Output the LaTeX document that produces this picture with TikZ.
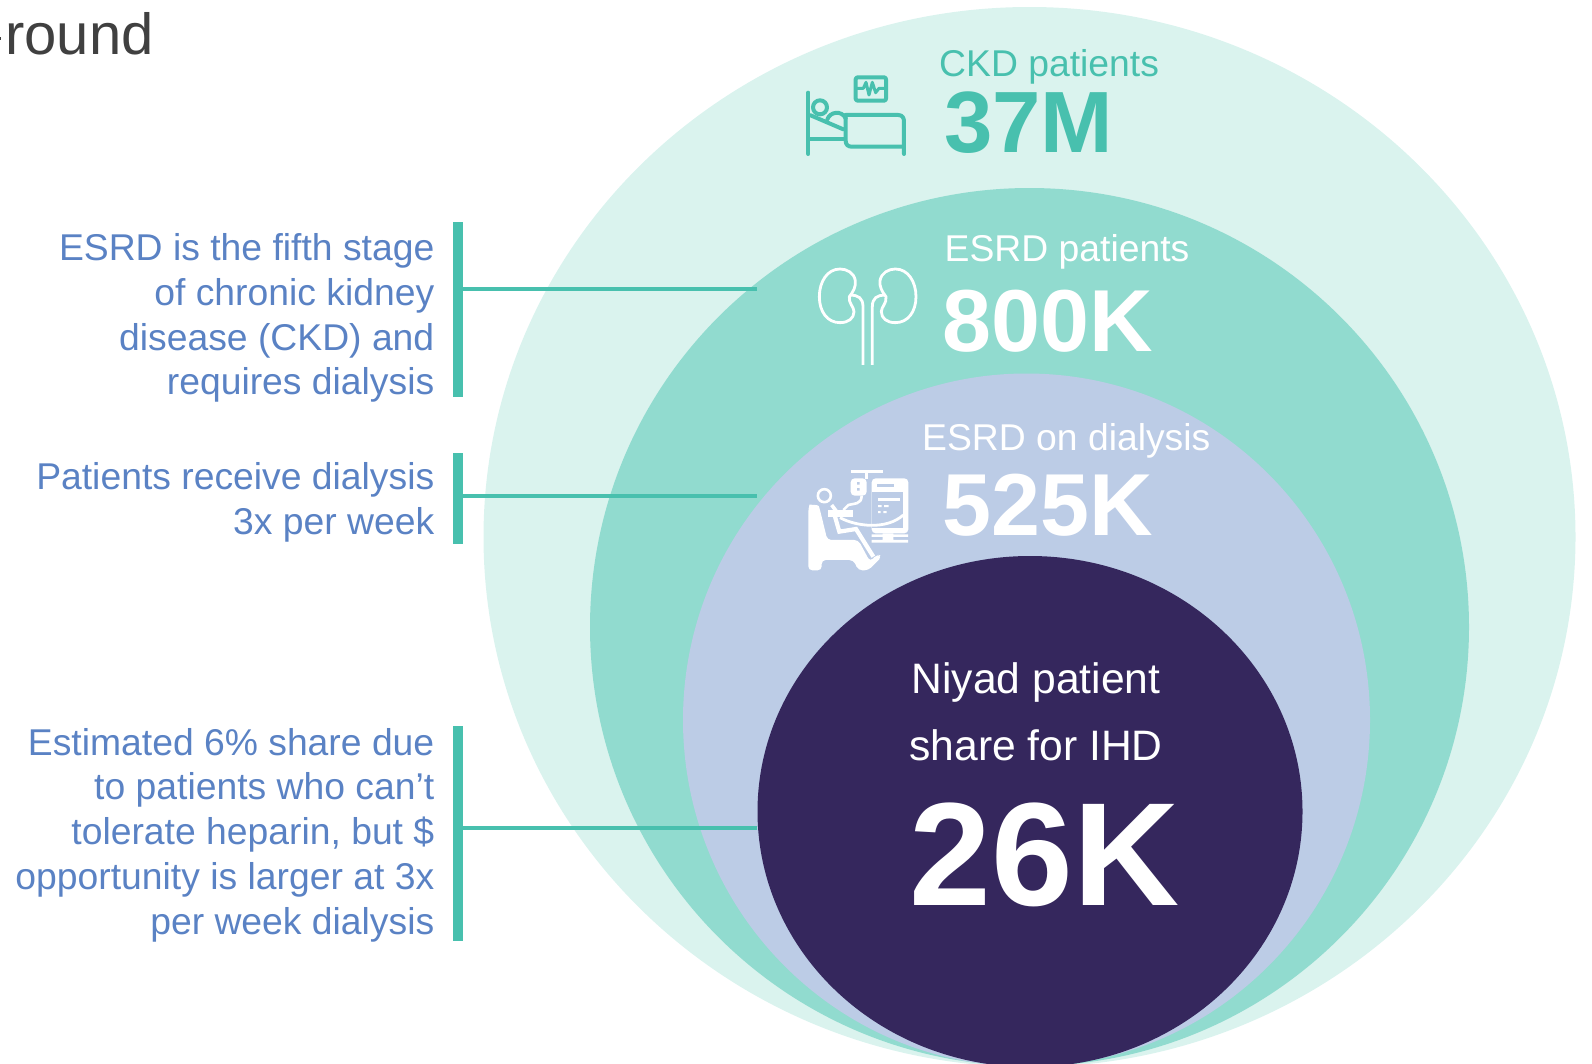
\documentclass[tikz,border=0pt]{standalone}
\usepackage{fontspec}
\setmainfont{Liberation Sans}
\definecolor{paleteal}{HTML}{DAF3EE}
\definecolor{midteal}{HTML}{91DBCF}
\definecolor{lavender}{HTML}{BCCCE6}
\definecolor{deeppurple}{HTML}{35275D}
\definecolor{barteal}{HTML}{48C0AE}
\definecolor{noteblue}{HTML}{5A82C4}
\definecolor{titlegray}{HTML}{404040}
\tikzset{
  notetext/.style={inner sep=0pt,anchor=base east,align=right,text=noteblue,font=\fontsize{37.3}{44.7}\selectfont},
  notebar/.style={draw=none,fill=barteal,inner sep=0pt,minimum width=10pt},
  leader/.style={draw=barteal,line width=4pt},
  smalllabel/.style={inner sep=0pt,anchor=base west,font=\fontsize{37.3}{44}\selectfont},
  biglabel/.style={inner sep=0pt,anchor=base west,font=\fontsize{88}{90}\selectfont\bfseries},
  iconline/.style={line width=4pt,draw=barteal,line cap=round,line join=round},
  kidneyline/.style={line width=2.8pt,draw=white,line join=round},
}
\begin{document}
\begin{tikzpicture}[x=1pt,y=-1pt]
\clip (0,0) rectangle (1592,1063);
\useasboundingbox (0,0) rectangle (1592,1063);
% rings
\fill[paleteal] (1029.5,537) ellipse [x radius=546pt,y radius=530pt];
\fill[midteal] (1029.5,627) ellipse [x radius=439.5pt,y radius=439pt];
\fill[lavender] (1026.5,720) ellipse [x radius=343.5pt,y radius=346.5pt];
\fill[deeppurple] (1030,811.5) ellipse [x radius=272.5pt,y radius=255.5pt];
% title rest
\node[inner sep=0pt,anchor=base west,text=titlegray,font=\fontsize{58}{60}\selectfont] (title) at (5,54) {round};
\fill[titlegray] (0,37) rectangle (1,40);
% notes on the left
\node[notetext] (noteA) at (434.5,394.8) {ESRD is the fifth stage\\of chronic kidney\\disease (CKD) and\\requires dialysis};
\node[notetext] (noteB) at (434.5,534) {Patients receive dialysis\\3x per week};
\node[notetext] (noteC) at (434.5,934) {Estimated 6\% share due\\to patients who can’t\\tolerate heparin, but \$\\opportunity is larger at 3x\\per week dialysis};
\node[notebar,minimum height=175pt] (barA) at (458,309.5) {};
\node[notebar,minimum height=91pt] (barB) at (458,498.5) {};
\node[notebar,minimum height=215pt] (barC) at (458,833.5) {};
\coordinate (endA) at (757,288.7);
\coordinate (endB) at (757,496);
\coordinate (endC) at (757,828);
\draw[leader] (barA.east |- endA) -- (endA);
\draw[leader] (barB.east |- endB) -- (endB);
\draw[leader] (barC.east |- endC) -- (endC);
% labels
\node[smalllabel,text=barteal] (ckdname) at (939,76) {CKD patients};
\node[biglabel,text=barteal,font=\fontsize{87}{90}\selectfont\bfseries] (ckdvalue) at (944,152) {37M};
\node[smalllabel,text=white] (esrdname) at (944.5,261) {ESRD patients};
\node[biglabel,text=white] (esrdvalue) at (942.5,351) {800K};
\node[smalllabel,text=white] (dialname) at (922,450) {ESRD on dialysis};
\node[biglabel,text=white] (dialvalue) at (942.5,535.5) {525K};
\node[inner sep=0pt,anchor=base,text=white,font=\fontsize{42.6}{44}\selectfont] (niyadA) at (1036,693.5) {Niyad patient};
\node[inner sep=0pt,anchor=base,text=white,font=\fontsize{42.6}{44}\selectfont] (niyadB) at (1036,760.5) {share for IHD};
\node[inner sep=0pt,anchor=base,text=white,font=\fontsize{147}{150}\selectfont\bfseries] (niyadvalue) at (1044.5,905.6) {26K};
% bed
\begin{scope}[shift={(780,50)},x=0.3333pt,y=-0.3333pt]
\draw[iconline] (85,128) -- (85,312);
\draw[iconline] (85,268) -- (195,268);
\draw[iconline] (120,172) circle [radius=7pt];
\draw[iconline] (92,196) -- (190,238);
\draw[iconline] (142,208) .. controls (150,185) and (185,180) .. (197,205);
\draw[iconline] (197,195) -- (355,195) .. controls (368,195) and (372,205) .. (372,215) -- (372,312);
\draw[iconline] (197,195) -- (197,272) .. controls (197,285) and (205,290) .. (215,290) -- (372,290);
\draw[iconline,rounded corners=2pt] (227,82) rectangle (318,152);
\draw[iconline,line width=3pt] (230,115) -- (250,115) -- (258,97) -- (267,135) -- (277,97) -- (287,128) -- (297,115) -- (316,115);
\end{scope}
% kidneys
\begin{scope}[shift={(790,250)},x=0.3333pt,y=-0.3333pt]
\foreach \flip/\off in {1/0,-1/466}{
\begin{scope}[shift={(\off,0)},xscale=\flip]
\draw[kidneyline] (178,140) .. controls (190,125) and (198,110) .. (196,92) .. controls (192,68) and (170,57) .. (150,57) .. controls (112,57) and (88,95) .. (88,140) .. controls (88,185) and (112,218) .. (150,218) .. controls (175,218) and (192,205) .. (192,185) .. controls (192,170) and (175,160) .. (178,140) -- cycle;
\draw[kidneyline] (180,136) .. controls (205,134) and (219,145) .. (219,170) -- (219,345);
\end{scope}}
\end{scope}
% dialysis patient
\begin{scope}[shift={(790,455)},x=0.3333pt,y=-0.3333pt]
\fill[white] (182,44) rectangle (278,54);
\fill[white] (224,48) rectangle (233,72);
\fill[white,rounded corners=4pt] (182,70) rectangle (230,122);
\fill[lavender] (201,81) rectangle (209,89) (201,99) rectangle (209,107);
\draw[white,line width=2.6pt] (215,122) .. controls (215,150) and (190,145) .. (175,150) -- (160,165);
\fill[white,rounded corners=4pt] (245,70) rectangle (355,235);
\fill[lavender] (245,110) rectangle (338,218);
\fill[lavender] (262,88) rectangle (312,96);
\fill[white] (264,130) rectangle (330,137);
\fill[white] (264,150) rectangle (275,156) (282,150) rectangle (296,156) (264,168) rectangle (272,174) (280,168) rectangle (290,174);
\fill[white] (245,238) rectangle (354,246) (245,255) rectangle (354,263) (278,235) rectangle (310,258);
\draw[white,line width=2.6pt] (103,122) circle [radius=6.5pt];
\fill[white,rounded corners=4pt] (55,160) .. controls (58,150) and (85,148) .. (90,165) -- (112,255) -- (205,255) -- (240,320) -- (262,297) -- (276,305) -- (235,346) -- (205,346) -- (190,315) -- (95,315) -- (95,346) -- (55,346) -- cycle;
\fill[white] (115,166) -- (190,166) -- (190,186) -- (115,186) -- cycle;
\draw[white,line width=3.6pt] (125,150) -- (140,170);
\draw[white,line width=4.2pt] (135,185) -- (148,230) -- (198,222) -- (250,305);
\draw[white,line width=2.8pt] (150,188) .. controls (200,215) and (290,225) .. (340,180);
\end{scope}
\end{tikzpicture}
\end{document}
